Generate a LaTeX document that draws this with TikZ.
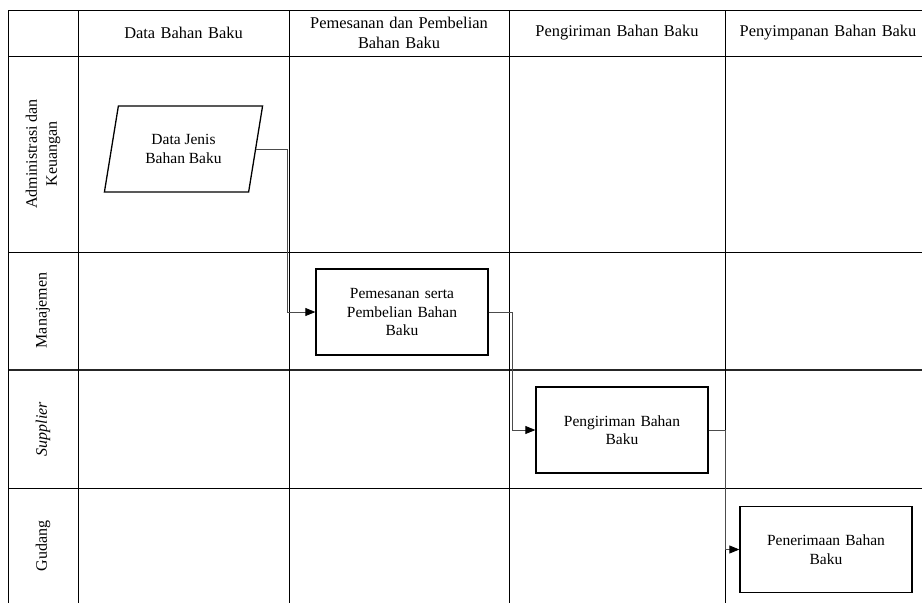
\documentclass[tikz,border=0pt]{standalone}
\usepackage{fontspec}
\setmainfont{Liberation Serif}
\usetikzlibrary{arrows.meta,shapes.geometric}
\begin{document}
\begin{tikzpicture}[x=1pt,y=-1pt,
  grid/.style={line width=1pt,black},
  thickgrid/.style={line width=1.6pt,black!85},
  head/.style={font=\fontsize{16.4}{20}\selectfont,align=center,text width=205},
  lane/.style={font=\fontsize{16}{20}\selectfont,align=center,rotate=90},
  procbox/.style={draw,line width=1.3pt,minimum width=172,minimum height=86,
    align=center,text width=150,font=\fontsize{15.5}{18.5}\selectfont},
  databox/.style={draw,line width=1.3pt,trapezium,trapezium left angle=76,
    trapezium right angle=104,trapezium stretches=true,minimum width=159,
    minimum height=86,align=center,font=\fontsize{15.5}{18.5}\selectfont},
  flow/.style={line width=0.8pt,black!70,-{Triangle[length=10pt,width=8pt,fill=black,color=black]}}]
\useasboundingbox (0,0) rectangle (922,603);
\fill[white] (0,0) rectangle (922,603);

% swimlane grid
\draw[grid] (8,10) -- (922,10);
\draw[grid] (8,56) -- (922,56);
\draw[grid] (8,252) -- (922,252);
\draw[thickgrid] (8,370) -- (922,370);
\draw[grid] (8,488) -- (922,488);
\foreach \x in {8,78,289,509,725}
  \draw[grid] (\x,10) -- (\x,603);

% column headers
\node[head] (h1) at (183.5,33) {Data Bahan Baku};
\node[head] (h2) at (399,33) {Pemesanan dan Pembelian\\Bahan Baku};
\node[head] (h3) at (617,33) {Pengiriman Bahan Baku};
\node[head] (h4) at (828,33) {Penyimpanan Bahan Baku};

% lane labels
\node[lane] (l1) at (43,154) {Administrasi dan\\Keuangan};
\node[lane] (l2) at (43,310.5) {Manajemen};
\node[lane] (l3) at (43,429) {\textit{Supplier}};
\node[lane] (l4) at (43,546) {Gudang};

% process steps
\node[databox] (data) at (183.5,149) {Data Jenis\\Bahan Baku};
\node[procbox] (pesan) at (402,312) {Pemesanan serta\\Pembelian Bahan\\Baku};
\node[procbox] (kirim) at (622,430) {Pengiriman Bahan\\Baku};
\node[procbox] (terima) at (826,549.5) {Penerimaan Bahan\\Baku};

% flow connectors
\draw[flow] (data.east) -- ++(31,0) |- (pesan.west);
\draw[flow] (pesan.east) -- ++(24,0) |- (kirim.west);
\draw[flow] (kirim.east) -- ++(17,0) |- (terima.west);
\end{tikzpicture}
\end{document}
